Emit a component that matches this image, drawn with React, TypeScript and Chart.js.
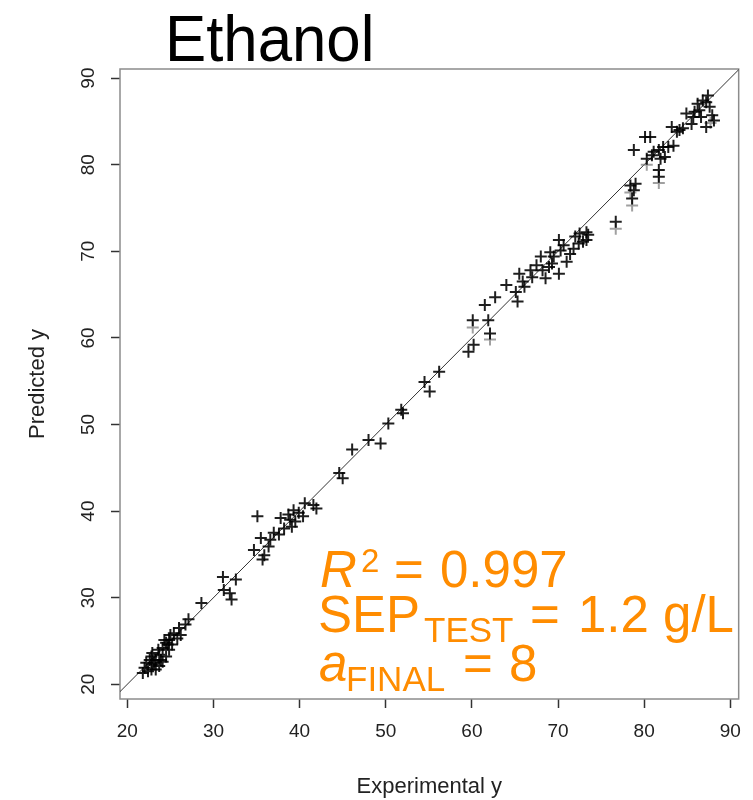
import React, { useEffect, useRef } from 'react';
import { Chart, registerables } from 'chart.js';

Chart.register(...registerables);

const TITLE = 'Ethanol';
const X_TITLE = 'Experimental y';
const Y_TITLE = 'Predicted y';
const X_TICKS = [20, 30, 40, 50, 60, 70, 80, 90];
const Y_TICKS = [20, 30, 40, 50, 60, 70, 80, 90];
const X_RANGE = [19.15, 90.97];
const Y_RANGE = [18.3, 91.05];
const IDENTITY = [10, 100];

const EXPERIMENTAL = [
  31.1, 32.6, 31.2, 31.9, 32.1, 28.6, 27.1, 26.75, 26.0, 25.4,
  24.85, 24.5, 25.8, 25.2, 24.1, 24.85, 22.9, 23.7, 24.5, 22.6,
  23.3, 24.1, 22.2, 22.9, 23.7, 22.0, 22.8, 21.8, 22.4, 23.3,
  23.9, 24.7, 25.0, 26.2, 24.3, 22.8, 23.6, 23.1,
  46.1, 44.6, 45.0, 41.6, 40.6, 41.95, 39.3, 39.9, 38.7, 38.9,
  37.8, 39.5, 40.4, 38.2, 39.1, 37.6, 35.1, 35.5, 36.6, 36.4,
  34.7, 35.9, 35.7, 37.0,
  48.0, 49.4, 50.3, 51.8, 52.0, 54.5, 55.1, 56.2,
  59.6, 60.2, 60.1, 61.9, 62.1, 61.5, 62.7, 64.0, 65.1, 65.3,
  65.5, 65.9, 66.8, 67.0, 68.0, 68.2, 68.55, 69.1, 69.3, 69.5,
  70.1, 70.3, 70.1, 70.65, 71.0, 71.4, 71.8, 72.0, 72.5, 72.9,
  73.3, 73.5, 72.4, 68.95, 67.5, 66.1,
  73.3, 76.7, 78.4, 78.8, 78.6, 79.0, 78.8, 80.1, 80.7, 80.3,
  80.9, 81.1, 81.7, 81.9, 81.7, 81.7, 82.2, 82.8, 83.4, 82.4,
  83.2, 83.8, 84.1, 84.5, 84.9, 85.5, 85.85, 86.4, 86.2, 86.6,
  87.2, 87.2, 87.4, 87.6, 87.9, 88.1, 86.8, 85.7,
];

const PREDICTED = [
  32.4, 32.1, 30.9, 30.5, 29.8, 29.4, 27.5, 26.9, 26.5, 25.9,
  25.1, 24.8, 25.3, 24.6, 24.2, 24.0, 23.6, 23.4, 23.2, 22.8,
  22.8, 22.6, 22.5, 22.3, 22.1, 21.9, 21.7, 21.3, 21.5, 21.7,
  22.8, 24.6, 25.7, 25.7, 25.1, 23.2, 24.0, 22.5,
  47.1, 44.4, 43.8, 40.7, 40.9, 40.3, 40.1, 39.8, 39.6, 39.0,
  39.2, 38.8, 39.4, 38.0, 38.2, 37.3, 39.4, 36.9, 36.7, 35.9,
  35.5, 34.9, 34.4, 37.5,
  48.2, 47.8, 50.1, 51.7, 51.3, 54.9, 53.8, 56.1,
  58.4, 59.2, 62.05, 62.05, 60.5, 63.8, 64.7, 66.1, 65.3, 64.2,
  67.4, 66.5, 67.8, 67.0, 69.4, 67.8, 66.9, 69.9, 68.6, 69.4,
  71.3, 70.1, 67.4, 70.7, 68.8, 69.7, 70.3, 71.7, 72.05, 71.1,
  72.2, 71.9, 70.9, 68.2, 68.4, 65.9,
  71.3, 73.4, 77.6, 77.05, 76.1, 77.8, 81.7, 83.2, 83.2, 80.7,
  81.1, 81.5, 81.7, 80.7, 79.4, 78.6, 82.05, 82.05, 82.2, 80.9,
  84.35, 83.8, 84.0, 84.2, 85.9, 84.7, 86.1, 86.3, 87.05, 85.5,
  84.35, 87.2, 88.0, 86.7, 85.7, 85.1, 87.4, 85.5,
];

const REP_EXPERIMENTAL = [76.7, 78.6, 81.7, 60.1, 62.1, 87.7, 78.4, 80.3];
const REP_PREDICTED = [72.6, 75.3, 77.9, 61.2, 59.8, 84.8, 76.8, 80.0];

const STAT_LINES = [
  [
    { text: 'R', kind: 'italic' },
    { text: '2', kind: 'sup' },
    { text: '=', kind: 'main' },
    { text: '0.997', kind: 'main' },
  ],
  [
    { text: 'SEP', kind: 'main' },
    { text: 'TEST', kind: 'sub' },
    { text: '=', kind: 'main' },
    { text: '1.2 g/L', kind: 'main' },
  ],
  [
    { text: 'a', kind: 'italic' },
    { text: 'FINAL', kind: 'sub' },
    { text: '=', kind: 'main' },
    { text: '8', kind: 'main' },
  ],
];

const FONT = '"Liberation Sans", Arial, Helvetica, sans-serif';
const ORANGE = '#ff8c00';

// annotation layout (run origins and baselines, px)
const RUN_X = [
  [320, 361, 394, 440],
  [318, 424, 530, 578],
  [319, 346, 463, 509],
];
const BASELINES = [587, 632, 681];

const decorPlugin = {
  id: 'decor',
  beforeDatasetsDraw(chart: any) {
    const { ctx, chartArea: a } = chart;
    ctx.save();
    ctx.strokeStyle = '#8c8c8c';
    ctx.lineWidth = 1.5;
    ctx.strokeRect(a.left, a.top, a.right - a.left, a.bottom - a.top);
    ctx.restore();
  },
  afterDraw(chart: any) {
    const ctx = chart.ctx;
    ctx.save();
    ctx.fillStyle = '#000';
    ctx.textBaseline = 'alphabetic';
    ctx.textAlign = 'left';
    ctx.font = `65px ${FONT}`;
    ctx.translate(165, 61);
    ctx.scale(0.95, 1);
    ctx.fillText(TITLE, 0, 0);
    ctx.restore();

    ctx.save();
    ctx.fillStyle = ORANGE;
    ctx.textBaseline = 'alphabetic';
    ctx.textAlign = 'left';
    STAT_LINES.forEach((runs, li) => {
      const base = BASELINES[li];
      runs.forEach((run, ri) => {
        let font = `51px ${FONT}`;
        let dy = 0;
        if (run.kind === 'italic') font = `italic 51px ${FONT}`;
        if (run.kind === 'sup') { font = `33px ${FONT}`; dy = -15; }
        if (run.kind === 'sub') { font = `35px ${FONT}`; dy = 10; }
        ctx.font = font;
        ctx.fillText(run.text, RUN_X[li][ri], base + dy);
      });
    });
    ctx.restore();
  },
};

export default function App() {
  const ref = useRef<HTMLCanvasElement | null>(null);

  useEffect(() => {
    const canvas = ref.current;
    if (!canvas) return;
    const samples = EXPERIMENTAL.map((x, i) => ({ x, y: PREDICTED[i] }));
    const reps = REP_EXPERIMENTAL.map((x, i) => ({ x, y: REP_PREDICTED[i] }));
    const identity = IDENTITY.map((v) => ({ x: v, y: v }));

    const chart = new Chart(canvas, {
      type: 'scatter',
      data: {
        datasets: [
          {
            label: 'Samples',
            data: samples,
            pointStyle: 'cross',
            pointRadius: 6,
            borderColor: 'rgba(0,0,0,0.88)',
            backgroundColor: 'rgba(0,0,0,0.88)',
            borderWidth: 2,
          },
          {
            label: 'Replicates',
            data: reps,
            pointStyle: 'cross',
            pointRadius: 6,
            borderColor: 'rgba(120,120,120,0.7)',
            backgroundColor: 'rgba(120,120,120,0.7)',
            borderWidth: 2,
          },
          {
            label: 'Identity',
            data: identity,
            showLine: true,
            pointRadius: 0,
            borderColor: '#333',
            borderWidth: 1,
          },
        ],
      },
      options: {
        responsive: false,
        animation: false,
        events: [],
        layout: { padding: { left: 0, top: 69, right: 3, bottom: 0 } },
        plugins: {
          legend: { display: false },
          tooltip: { enabled: false },
          title: { display: false },
        },
        scales: {
          x: {
            type: 'linear',
            min: X_RANGE[0],
            max: X_RANGE[1],
            afterBuildTicks: (s: any) => { s.ticks = X_TICKS.map((v) => ({ value: v })); },
            afterFit: (s: any) => { s.height = 101; },
            border: { display: false },
            grid: {
              drawOnChartArea: false,
              drawTicks: true,
              tickLength: 9,
              tickColor: '#333',
              tickWidth: 1.5,
            },
            ticks: {
              autoSkip: false,
              maxRotation: 0,
              minRotation: 0,
              padding: 12,
              color: '#222',
              font: { family: FONT, size: 19 },
            },
            title: {
              display: true,
              text: X_TITLE,
              color: '#222',
              font: { family: FONT, size: 22 },
              padding: { top: 0, bottom: 0 },
            },
          },
          y: {
            type: 'linear',
            min: Y_RANGE[0],
            max: Y_RANGE[1],
            afterBuildTicks: (s: any) => { s.ticks = Y_TICKS.map((v) => ({ value: v })); },
            afterFit: (s: any) => { s.width = 120; },
            border: { display: false },
            grid: {
              drawOnChartArea: false,
              drawTicks: true,
              tickLength: 9,
              tickColor: '#333',
              tickWidth: 1.5,
            },
            ticks: {
              autoSkip: false,
              minRotation: 90,
              maxRotation: 90,
              crossAlign: 'center',
              padding: 12,
              color: '#222',
              font: { family: FONT, size: 19 },
            },
            title: {
              display: true,
              text: Y_TITLE,
              color: '#222',
              font: { family: FONT, size: 22 },
              padding: { top: 25, bottom: 0 },
            },
          },
        },
      },
      plugins: [decorPlugin],
    } as any);

    return () => chart.destroy();
  }, []);

  return (
    <div style={{ position: 'fixed', left: 0, top: 0, width: 753, height: 800, background: '#fff' }}>
      <canvas ref={ref} width={753} height={800} style={{ display: 'block' }} />
    </div>
  );
}
